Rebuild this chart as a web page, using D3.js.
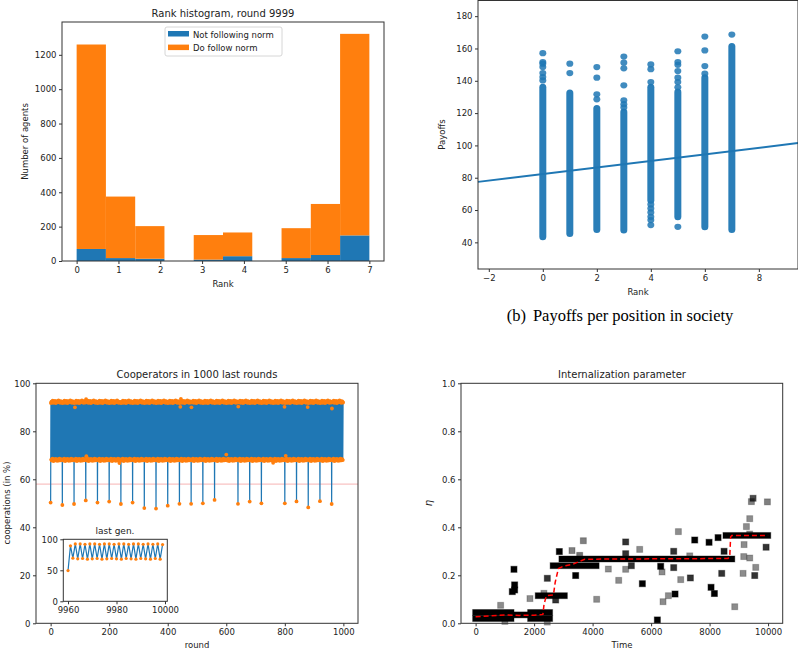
<!DOCTYPE html>
<html><head><meta charset="utf-8">
<script src="https://cdn.jsdelivr.net/npm/d3@7"></script>
<style>body{margin:0;background:#fff} svg{display:block}</style>
</head><body>
<svg id="c" width="798" height="650"></svg>
<script>
// ---------- Panel (a): rank histogram ----------
const binEdges = [0, 0.7, 1.4, 2.1, 2.8, 3.5, 4.2, 4.9, 5.6, 6.3, 7.0];
const notFollowing = [70, 17, 13, 0, 8, 28, 0, 17, 35, 149];
const doFollow = [1190, 358, 190, 0, 143, 138, 0, 174, 297, 1173];
const histXTicks = [0, 1, 2, 3, 4, 5, 6, 7];
const histYTicks = [0, 200, 400, 600, 800, 1000, 1200];
const histLegend = ["Not following norm", "Do follow norm"];

// ---------- Panel (b): payoffs per rank ----------
const ranks = [0, 1, 2, 3, 4, 5, 6, 7];
const denseLow = [43.5, 45.5, 48, 47.6, 66, 55.8, 49.6, 48];
const denseHigh = [136, 132.4, 122.8, 120.7, 136, 133, 141.9, 161.2];
const payoffOutliers = [
  [140.2, 142.3, 144.8, 148.5, 150.6, 151.6, 157.1],
  [144.8, 150.6],
  [128.5, 131.6, 141.9, 148.5],
  [123.5, 125.5, 127.9, 137.2, 147.7, 151.2, 155],
  [50.7, 53.8, 55.8, 58.5, 61, 63.5, 139.2, 147.2, 150.1],
  [49.6, 136, 139.2, 141.9, 146, 149.9, 151.6, 158.3],
  [144.4, 149.1, 158.8, 167.4],
  [168.6]
];
const regIntercept = 82.3, regSlope = 2.03;
const payXTicks = [-2, 0, 2, 4, 6, 8];
const payYTicks = [40, 60, 80, 100, 120, 140, 160, 180];

// ---------- Panel (c): cooperators ----------
const genLength = 40;
const genDips = [50.3, 49.3, 49.7, 51.2, 50.3, 50.7, 49.7, 50.3, 48.0, 47.8, 49.0, 49.8, 49.8,
                 50.0, 51.4, 49.7, 49.8, 50.7, 50.0, 49.4, 50.0, 50.8, 48.3, 50.9, 49.7];
const genCycle = [null, 91.8, 68.2, 92.4, 67.8, 92.1, 68.6, 92.8, 68.0, 91.9, 67.6, 92.5, 68.4, 92.2,
                  68.0, 92.7, 67.9, 91.8, 68.5, 92.4, 68.1, 92.0, 67.7, 92.6, 68.3, 92.2, 68.0, 92.9,
                  67.8, 92.1, 68.6, 92.5, 68.2, 91.9, 67.9, 92.6, 68.4, 92.3, 68.0, 92.0];
const coopOutliers = [[83, 90.0], [121, 93.4], [443, 90.2], [445, 93.5], [481, 90.0], [600, 70.3],
                      [641, 90.3], [799, 90.2], [803, 69.8], [878, 90.1], [961, 89.5], [122, 69.6], [235, 66.8], [760, 66.9]];
const coopThreshold = 58;
const lastGenRounds0 = 9960;
const lastGen = [49.5, 89.5, 69.5, 92.5, 68.5, 92.5, 69, 92, 68, 92.5, 68.5, 92.5, 69, 92, 68, 92.5,
                 68.5, 92.5, 69, 92, 68.5, 92.5, 68, 92.5, 69, 92, 68.5, 92.5, 68, 92.5, 69, 92,
                 68.5, 92.5, 68, 92, 69, 92.5, 68, 91.5];
const coopXTicks = [0, 200, 400, 600, 800, 1000];
const coopYTicks = [0, 20, 40, 60, 80, 100];
const insetXTicks = [9960, 9980, 10000];
const insetYTicks = [0, 50, 100];

// ---------- Panel (d): internalization ----------
const plateaus = [ // [start time, end time, eta]
  [0, 1210, 0.045], [0, 1210, 0.02], [1300, 1780, 0.035], [1880, 2530, 0.045], [1880, 2530, 0.02],
  [2140, 3035, 0.115], [2650, 4120, 0.24], [2950, 8760, 0.268], [8560, 9990, 0.366]
];
const etaPoints = [ // [time, eta, shade]
  [855, 0.075, 0.45], [1000, 0.008, 0.45], [1254, 0.132, 1], [1311, 0.225, 1], [1334, 0.16, 1], [1334, 0.139, 1],
  [1858, 0.103, 0.45], [2336, 0.125, 0.45], [2450, 0.005, 0.45], [2451, 0.1875, 0.8], [2737, 0.097, 0.8],
  [2862, 0.299, 1], [3295, 0.303, 0.5], [3421, 0.199, 1], [3558, 0.283, 0.55], [3683, 0.344, 0.5],
  [4139, 0.1, 0.45], [4538, 0.226, 0.45], [4892, 0.179, 0.45], [5131, 0.339, 0.8], [5131, 0.29, 0.8],
  [5131, 0.225, 0.45], [5325, 0.24, 0.8], [5610, 0.308, 0.45], [5701, 0.165, 1], [6214, 0.014, 1],
  [6328, 0.2375, 1], [6374, 0.214, 0.45], [6408, 0.09, 0.45], [6591, 0.115, 0.45], [6773, 0.3, 0.8],
  [6773, 0.232, 0.8], [6819, 0.122, 1], [6933, 0.382, 0.45], [7013, 0.182, 0.45], [7321, 0.281, 0.45],
  [7343, 0.189, 0.8], [7492, 0.347, 1], [7982, 0.3375, 1], [8050, 0.15, 1], [8164, 0.124, 1],
  [8290, 0.357, 1], [8415, 0.208, 0.8], [8495, 0.3, 0.9], [8860, 0.069, 0.45], [9145, 0.208, 0.45],
  [9168, 0.278, 0.45], [9179, 0.328, 0.45], [9259, 0.403, 0.45], [9373, 0.436, 0.45], [9373, 0.272, 0.45],
  [9370, 0.372, 0.45], [9430, 0.507, 0.5], [9487, 0.521, 0.7], [9544, 0.199, 0.8], [9578, 0.233, 0.45],
  [9932, 0.317, 0.8], [9977, 0.506, 0.5]
];
const meanTimes = [0, 500, 1000, 1500, 2000, 2300, 2340, 2420, 2660, 2720, 2830, 3000, 3330, 3500, 3730, 5000, 8630, 8690, 8720, 8760, 10000];
const meanEta = [0.027, 0.031, 0.035, 0.033, 0.034, 0.037, 0.08, 0.115, 0.118, 0.17, 0.228, 0.238, 0.246, 0.255, 0.267, 0.268, 0.27, 0.28, 0.36, 0.366, 0.366];
const etaXTicks = [0, 2000, 4000, 6000, 8000, 10000];
const etaYTicks = [0, 0.2, 0.4, 0.6, 0.8, 1.0];

// ================= drawing =================
const svg = d3.select("#c");
svg.append("rect").attr("width", 798).attr("height", 650).attr("fill", "#fff");
const BLUE = "#1f77b4", ORANGE = "#ff7f0e", SPINE = "#333", TXT = "#222";
const FS = 8.5;
const SANS = "DejaVu Sans, sans-serif";

function frame(g, x, y) {
  const [x0, x1] = x.range(), [y0, y1] = y.range();
  g.append("rect").attr("x", x0).attr("y", y1).attr("width", x1 - x0).attr("height", y0 - y1)
    .attr("fill", "none").attr("stroke", SPINE).attr("stroke-width", 1);
}
function styleAxis(s) {
  s.select(".domain").remove();
  s.selectAll("text").attr("font-size", FS).attr("fill", TXT).style("font-family", SANS);
  s.selectAll("line").attr("stroke", SPINE);
}
function axes(g, x, y, xt, yt, xf, yf) {
  g.append("g").attr("transform", `translate(0,${y.range()[0]})`)
    .call(d3.axisBottom(x).tickValues(xt).tickFormat(xf || d3.format("d")).tickSize(3).tickSizeOuter(0).tickPadding(2.5))
    .call(styleAxis);
  g.append("g").attr("transform", `translate(${x.range()[0]},0)`)
    .call(d3.axisLeft(y).tickValues(yt).tickFormat(yf || d3.format("d")).tickSize(3).tickSizeOuter(0).tickPadding(2.5))
    .call(styleAxis);
}
function text(g, x, y, s, size, anchor, rot) {
  const t = g.append("text").attr("x", x).attr("y", y).attr("font-size", size).attr("fill", TXT)
    .attr("text-anchor", anchor || "middle").style("font-family", SANS).text(s);
  if (rot) t.attr("transform", `rotate(${rot},${x},${y})`);
  return t;
}

// ---- Panel (a)
{
  const g = svg.append("g");
  const x = d3.scaleLinear().domain([-0.35, 7.35]).range([62, 384]);
  const y = d3.scaleLinear().domain([0, 1391]).range([261, 22]);
  const bins = d3.range(notFollowing.length).map(i => ({x0: binEdges[i], x1: binEdges[i + 1], a: notFollowing[i], b: doFollow[i]}));
  g.selectAll(".nf").data(bins.filter(d => d.a > 0)).join("rect")
    .attr("x", d => x(d.x0)).attr("width", d => x(d.x1) - x(d.x0))
    .attr("y", d => y(d.a)).attr("height", d => y(0) - y(d.a)).attr("fill", BLUE);
  g.selectAll(".df").data(bins.filter(d => d.b > 0)).join("rect")
    .attr("x", d => x(d.x0)).attr("width", d => x(d.x1) - x(d.x0))
    .attr("y", d => y(d.a + d.b)).attr("height", d => y(d.a) - y(d.a + d.b)).attr("fill", ORANGE);
  frame(g, x, y);
  axes(g, x, y, histXTicks, histYTicks);
  text(g, 223, 17, "Rank histogram, round 9999", 10);
  text(g, 223, 287, "Rank", FS);
  text(g, 28, 141.5, "Number of agents", FS, "middle", -90);
  // legend
  const lg = g.append("g");
  lg.append("rect").attr("x", 165).attr("y", 27).attr("width", 117).attr("height", 29).attr("rx", 2)
    .attr("fill", "#fff").attr("fill-opacity", 0.8).attr("stroke", "#ccc").attr("stroke-width", 0.8);
  [BLUE, ORANGE].forEach((c, i) => {
    lg.append("rect").attr("x", 168).attr("y", 31 + i * 13.6).attr("width", 21).attr("height", 5.5).attr("fill", c);
    text(lg, 193, 37.5 + i * 13.6, histLegend[i], FS, "start");
  });
}

// ---- Panel (b)
{
  const g = svg.append("g");
  const x = d3.scaleLinear().domain([-2.4, 9.45]).range([478, 798]);
  const y = d3.scaleLinear().domain([23.5, 189.7]).range([269, 0.5]);
  g.selectAll(".dense").data(ranks).join("line")
    .attr("x1", d => x(d)).attr("x2", d => x(d))
    .attr("y1", (d, i) => y(denseLow[i])).attr("y2", (d, i) => y(denseHigh[i]))
    .attr("stroke", BLUE).attr("stroke-width", 7).attr("stroke-linecap", "round").attr("stroke-opacity", 0.95);
  const pts = [];
  ranks.forEach((r, i) => payoffOutliers[i].forEach(v => pts.push([r, v])));
  g.selectAll(".pt").data(pts).join("ellipse")
    .attr("cx", d => x(d[0])).attr("cy", d => y(d[1])).attr("rx", 3.5).attr("ry", 3.1)
    .attr("fill", BLUE).attr("fill-opacity", 0.85);
  const dom = x.domain();
  g.append("line").attr("x1", x(dom[0])).attr("x2", x(dom[1]))
    .attr("y1", y(regIntercept + regSlope * dom[0])).attr("y2", y(regIntercept + regSlope * dom[1]))
    .attr("stroke", BLUE).attr("stroke-width", 2);
  frame(g, x, y);
  axes(g, x, y, payXTicks, payYTicks);
  text(g, 638, 295, "Rank", FS);
  text(g, 445, 134.5, "Payoffs", FS, "middle", -90);
  const cap = text(g, 620, 321, "(b)", 16.5).style("font-family", "Liberation Serif, serif").attr("fill", "#000");
  cap.append("tspan").attr("dx", 7).text("Payoffs per position in society");
}

// ---- Panel (c)
{
  const g = svg.append("g");
  const x = d3.scaleLinear().domain([-50, 1050]).range([36, 358]);
  const y = d3.scaleLinear().domain([0, 100]).range([623.3, 383.3]);
  const series = [];
  genDips.forEach((dip, gi) => {
    genCycle.forEach((v, k) => series.push([gi * genLength + k, k === 0 ? dip : v]));
  });
  coopOutliers.forEach(([r, v]) => { series[r][1] = v; });
  g.append("line").attr("x1", 36).attr("x2", 358).attr("y1", y(coopThreshold)).attr("y2", y(coopThreshold))
    .attr("stroke", "#f08080").attr("stroke-opacity", 0.6).attr("stroke-width", 1);
  g.append("path").datum(series).attr("d", d3.line().x(d => x(d[0])).y(d => y(d[1])))
    .attr("fill", "none").attr("stroke", BLUE).attr("stroke-width", 1.2);
  g.selectAll(".od").data(series).join("circle")
    .attr("cx", d => x(d[0])).attr("cy", d => y(d[1])).attr("r", 1.9).attr("fill", ORANGE);
  frame(g, x, y);
  axes(g, x, y, coopXTicks, coopYTicks);
  text(g, 197, 378, "Cooperators in 1000 last rounds", 10);
  text(g, 197, 648, "round", FS);
  text(g, 10, 503, "cooperations (in %)", FS, "middle", -90);

  // inset
  const ig = g.append("g");
  const xi = d3.scaleLinear().domain([9958.05, 10000.95]).range([63.3, 167.3]);
  const yi = d3.scaleLinear().domain([0, 100]).range([601.3, 539.3]);
  ig.append("rect").attr("x", 63.3).attr("y", 539.3).attr("width", 104).attr("height", 62).attr("fill", "#fff");
  const ls = lastGen.map((v, i) => [lastGenRounds0 + i, v]);
  ig.append("path").datum(ls).attr("d", d3.line().x(d => xi(d[0])).y(d => yi(d[1])))
    .attr("fill", "none").attr("stroke", BLUE).attr("stroke-width", 1.2);
  ig.selectAll("circle").data(ls).join("circle")
    .attr("cx", d => xi(d[0])).attr("cy", d => yi(d[1])).attr("r", 1.6).attr("fill", ORANGE);
  frame(ig, xi, yi);
  axes(ig, xi, yi, insetXTicks, insetYTicks);
  text(ig, 115, 534, "last gen.", 9);
}

// ---- Panel (d)
{
  const g = svg.append("g");
  const x = d3.scaleLinear().domain([-500, 10500]).range([461, 782.7]);
  const y = d3.scaleLinear().domain([0, 1]).range([623.3, 383.3]);
  const S = 6;
  g.selectAll(".pl").data(plateaus).join("rect")
    .attr("x", d => x(d[0]) - S / 2).attr("width", d => x(d[1]) - x(d[0]) + S)
    .attr("y", d => y(d[2]) - S / 2).attr("height", S).attr("fill", "#000")
    .attr("stroke", "#000").attr("stroke-opacity", 0.35).attr("stroke-width", 1);
  g.selectAll(".sq").data(etaPoints).join("rect")
    .attr("x", d => x(d[0]) - S / 2).attr("y", d => y(d[1]) - S / 2).attr("width", S).attr("height", S)
    .attr("fill", "#000").attr("fill-opacity", d => d[2])
    .attr("stroke", "#000").attr("stroke-opacity", d => d[2] * 0.5).attr("stroke-width", 1);
  g.append("path").datum(meanTimes.map((t, i) => [t, meanEta[i]]))
    .attr("d", d3.line().x(d => x(d[0])).y(d => y(d[1])))
    .attr("fill", "none").attr("stroke", "#ff0000").attr("stroke-width", 1.5).attr("stroke-dasharray", "5,3");
  frame(g, x, y);
  axes(g, x, y, etaXTicks, etaYTicks, d3.format("d"), d3.format(".1f"));
  text(g, 622, 378, "Internalization parameter", 10);
  text(g, 622, 648, "Time", FS);
  text(g, 432, 503, "η", 10, "middle", -90).attr("font-style", "italic");
}
</script>
</body></html>
